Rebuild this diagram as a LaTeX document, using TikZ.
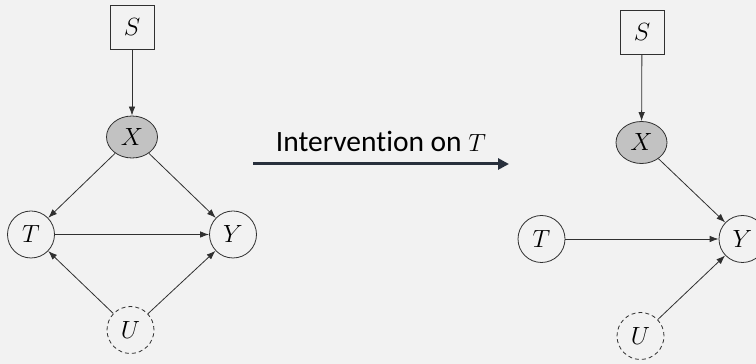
\documentclass[tikz,border=0pt]{standalone}
\usepackage{fontspec}
\newfontfamily\labelfont[Ligatures=NoCommon]{Carlito}
\usetikzlibrary{arrows.meta,shapes.geometric}
\definecolor{bgcol}{HTML}{F2F2F2}
\definecolor{inkcol}{HTML}{303030}
\definecolor{shadecol}{HTML}{C2C2C2}
\definecolor{bigarrow}{HTML}{28303C}
\tikzset{
  var/.style={circle, draw=inkcol, line width=0.8pt, minimum size=47pt, inner sep=0pt,
              font=\fontsize{23}{27}\selectfont},
  latent/.style={var, dash pattern=on 4pt off 3pt},
  observed/.style={ellipse, draw=inkcol, fill=shadecol, line width=0.8pt,
              minimum width=51pt, minimum height=42pt, inner sep=0pt,
              font=\fontsize{23}{27}\selectfont},
  sel/.style={rectangle, draw=inkcol, line width=0.8pt, minimum width=44pt,
              minimum height=44pt, inner sep=0pt, font=\fontsize{23}{27}\selectfont},
  edge/.style={draw=inkcol, line width=0.8pt, -{Latex[length=9pt,width=6.5pt]}},
}
\begin{document}
\begin{tikzpicture}[x=1pt,y=1pt]
  \fill[bgcol] (0,0) rectangle (756,364);
  \useasboundingbox (0,0) rectangle (756,364);

  % observational graph
  \node[sel] (S1) at (132,337) {$S$};
  \node[observed] (X1) at (132,227) {$X$};
  \node[var] (T1) at (31,129.5) {$T$};
  \node[var] (Y1) at (233,129.5) {$Y$};
  \node[latent] (U1) at (130.5,34) {$U$};
  \draw[edge] (S1) -- (X1);
  \draw[edge] (X1) -- (T1);
  \draw[edge] (X1) -- (Y1);
  \draw[edge] (T1) -- (Y1);
  \draw[edge] (U1) -- (T1);
  \draw[edge] (U1) -- (Y1);

  % intervention arrow and its label
  \coordinate (ia) at (253,200);
  \coordinate (ib) at (509,200);
  \draw[bigarrow, line width=3pt, -{Triangle[length=11pt,width=11pt]}] (ia) -- (ib);
  \node[anchor=base, inner sep=0pt, text=black] (lab) at (381,212)
    {\labelfont\fontsize{29.5}{34}\selectfont Intervention on {\fontsize{26}{30}\selectfont$T$}};

  % graph after the intervention
  \node[sel] (S2) at (642,332) {$S$};
  \node[observed] (X2) at (641.5,221.5) {$X$};
  \node[var] (T2) at (541.5,125) {$T$};
  \node[var] (Y2) at (742.5,125) {$Y$};
  \node[latent] (U2) at (640.5,28) {$U$};
  \draw[edge] (S2) -- (X2);
  \draw[edge] (X2) -- (Y2);
  \draw[edge] (T2) -- (Y2);
  \draw[edge] (U2) -- (Y2);
\end{tikzpicture}
\end{document}
